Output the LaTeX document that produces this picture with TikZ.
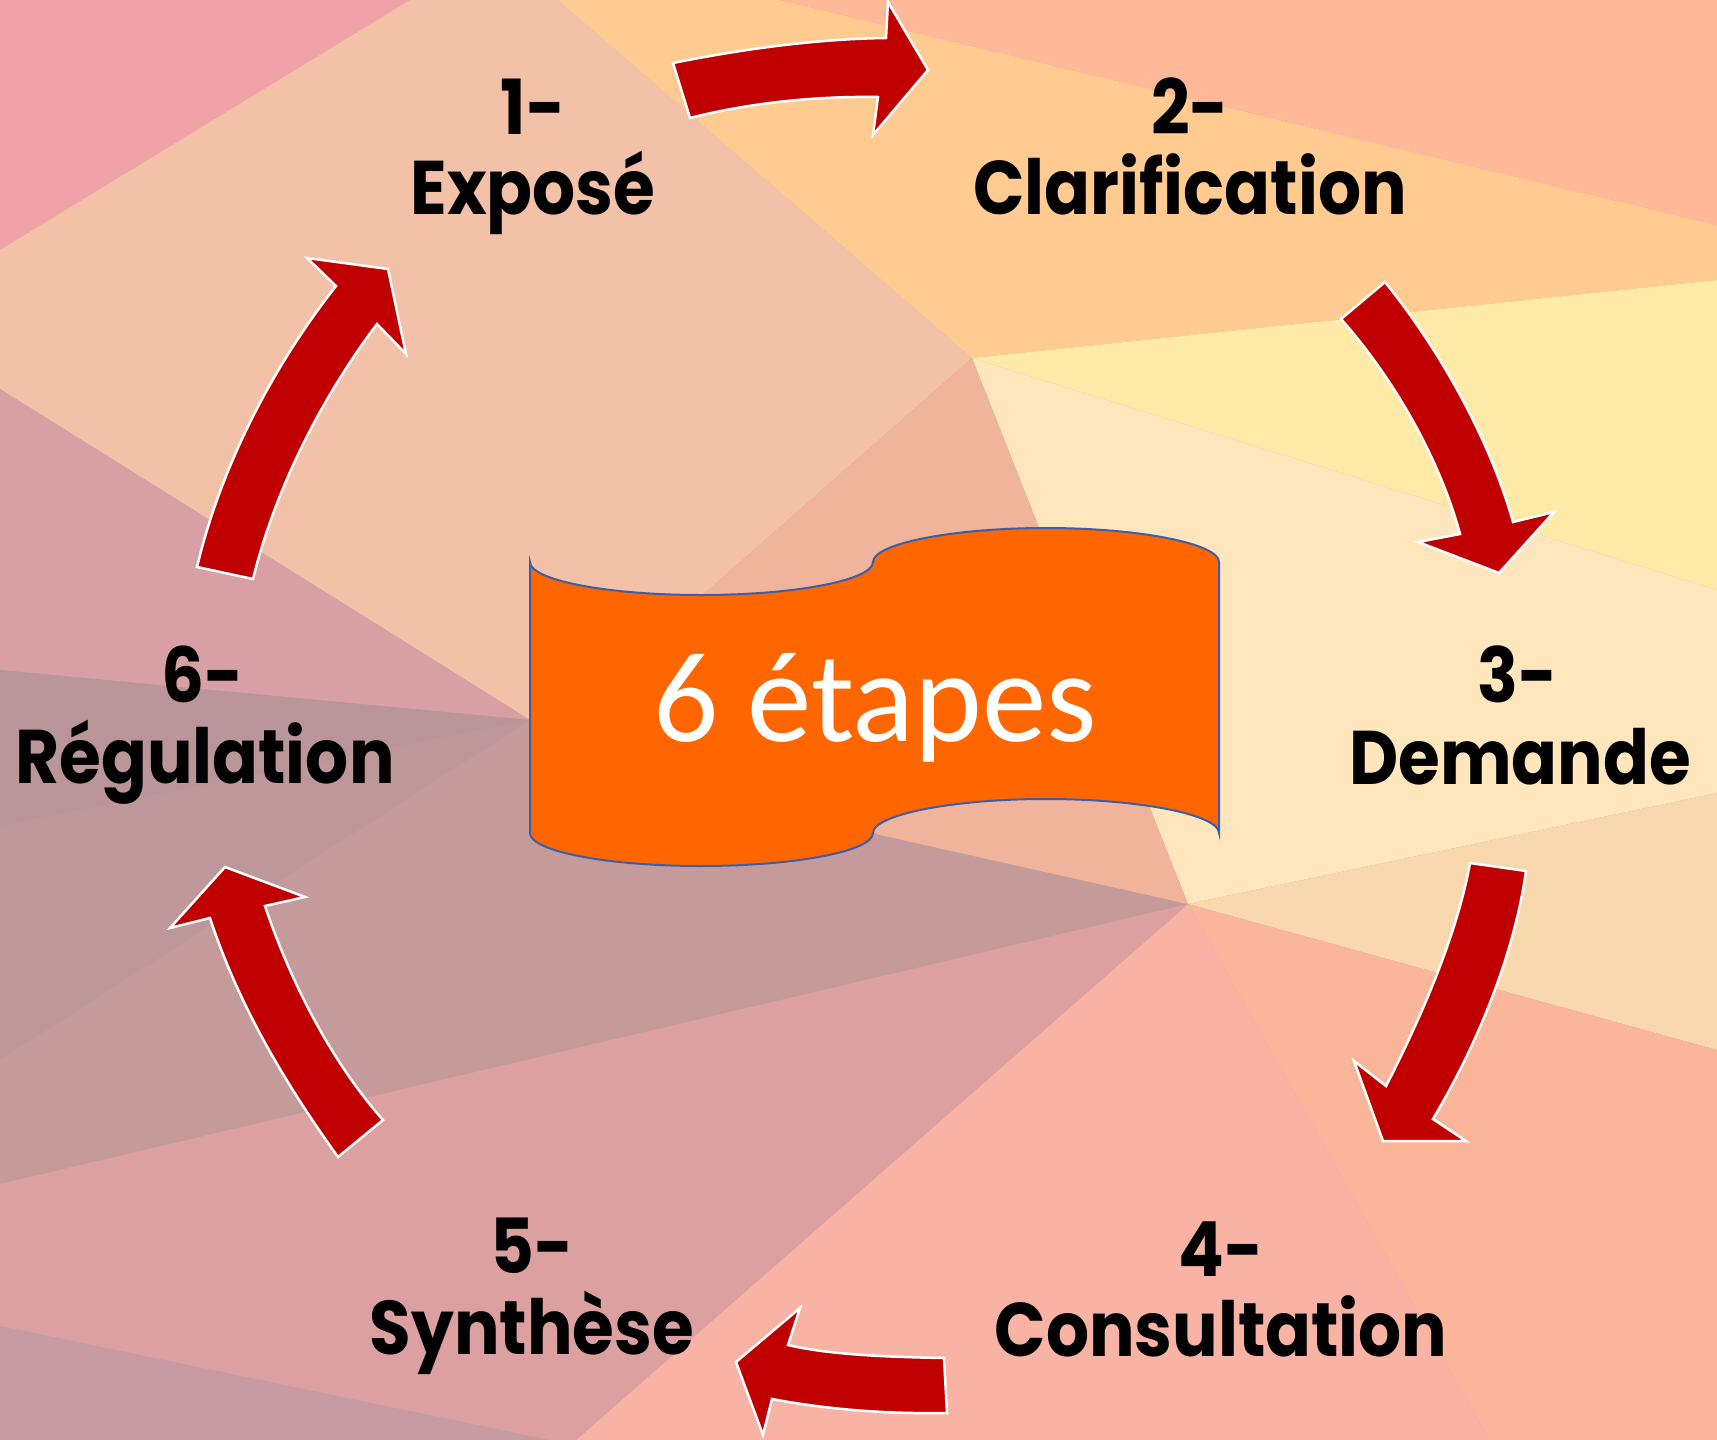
\documentclass[tikz,border=0pt]{standalone}
\usepackage{fontspec}
\newfontfamily\stepfont{Poppins}[FakeStretch=0.89]
\newfontfamily\bannerfont{Carlito}
\usetikzlibrary{calc}

% background tints
\definecolor{bgpink}{HTML}{EFA3A7}
\definecolor{bgpeach}{HTML}{F2C1A8}
\definecolor{bgorange}{HTML}{FFCB91}
\definecolor{bgsalmon}{HTML}{FFB898}
\definecolor{bgyellow}{HTML}{FFEAA8}
\definecolor{bgcream}{HTML}{FFE6BD}
\definecolor{bglightpeach}{HTML}{FAD8AE}
\definecolor{bgsalmonlow}{HTML}{FBB59B}
\definecolor{bgpinksalmon}{HTML}{F9B3A5}
\definecolor{bgcenter}{HTML}{EFB49B}
\definecolor{bgmauvepink}{HTML}{D8A0A5}
\definecolor{bggray}{HTML}{BA959A}
\definecolor{bggraylow}{HTML}{BE979B}
\definecolor{bgmauve}{HTML}{C49A9B}
\definecolor{bgpinkmauve}{HTML}{DCA0A1}
\definecolor{bgpurple}{HTML}{C79BA4}
% shapes
\definecolor{arrowred}{HTML}{C00000}
\definecolor{bannerorange}{HTML}{FF6600}
\definecolor{bannerline}{HTML}{3A5FA8}

\begin{document}
\begin{tikzpicture}[x=1pt, y=-1pt,
	steplabel/.style={anchor=base, inner sep=0pt, font=\stepfont\bfseries\fontsize{76}{80}\selectfont},
	cyclearrow/.style={fill=arrowred, draw=white, line width=2.5pt, line join=miter}]
	\useasboundingbox (0,0) rectangle (1717,1440);
	
	% low-poly background
	\fill[bgmauve] (0,0) rectangle (1717,1440);
	\fill[bgpink] (0,0) -- (410,0) -- (0,250) -- cycle;
	\fill[bgpeach] (0,250) -- (410,0) -- (558,0) -- (972,358) -- (640,650) -- (530,720) -- (0,389) -- cycle;
	\fill[bgorange] (558,0) -- (780,0) -- (1717,225) -- (1717,280) -- (972,358) -- cycle;
	\fill[bgsalmon] (780,0) -- (1717,0) -- (1717,225) -- cycle;
	\fill[bgyellow] (972,358) -- (1717,280) -- (1717,590) -- cycle;
	\fill[bgcream] (972,358) -- (1717,590) -- (1717,793) -- (1188,904) -- cycle;
	\fill[bglightpeach] (1188,904) -- (1717,793) -- (1717,1050) -- cycle;
	\fill[bgsalmonlow] (1188,904) -- (1717,1050) -- (1717,1440) -- (1489,1440) -- cycle;
	\fill[bgpinksalmon] (1188,904) -- (1489,1440) -- (576,1440) -- cycle;
	\fill[bgcenter] (972,358) -- (1188,904) -- (880,835) -- (530,720) -- (640,650) -- cycle;
	\fill[bgmauvepink] (0,389) -- (530,720) -- (0,670) -- cycle;
	\fill[bggray] (0,670) -- (530,720) -- (0,826) -- cycle;
	\fill[bggraylow] (0,826) -- (530,720) -- (0,1060) -- cycle;
	\fill[bgpinkmauve] (0,1184) -- (1188,904) -- (576,1440) -- (549,1440) -- (0,1326) -- cycle;
	\fill[bgpurple] (0,1326) -- (549,1440) -- (0,1440) -- cycle;
	
	% banner
	\filldraw[fill=bannerorange, draw=bannerline, line width=2pt]
		(530,562) .. controls (530,580) and (606,595) .. (701,595)
		.. controls (796,595) and (873,580) .. (873,562)
		.. controls (873,544) and (951,528) .. (1046,528)
		.. controls (1141,528) and (1219,544) .. (1219,562)
		-- (1219,833)
		.. controls (1219,815) and (1141,799) .. (1046,799)
		.. controls (951,799) and (873,815) .. (873,833)
		.. controls (873,851) and (796,866) .. (701,866)
		.. controls (606,866) and (530,851) .. (530,833) -- cycle;
	\node[anchor=base, inner sep=0pt, text=white, font=\bannerfont\fontsize{129}{140}\selectfont] (etapes) at (875,741) {6 étapes};
	
	% step labels
	\node[steplabel] (n1) at (533,134) {1-};
	\node[steplabel] (s1) at (533,214) {Exposé};
	\node[steplabel] (n2) at (1190,134) {2-};
	\node[steplabel] (s2) at (1190,214) {Clarification};
	\node[steplabel] (n3) at (1518,702) {3-};
	\node[steplabel] (s3) at (1520,784) {Demande};
	\node[steplabel] (n4) at (1221,1276) {4-};
	\node[steplabel] (s4) at (1221,1356) {Consultation};
	\node[steplabel] (n5) at (532,1273) {5-};
	\node[steplabel] (s5) at (532,1354) {Synthèse};
	\node[steplabel] (n6) at (203,702) {6-};
	\node[steplabel] (s6) at (205,783) {Régulation};
	
	% curved arrows round the cycle
	\filldraw[cyclearrow] (673,63) .. controls (743,49) and (816,39) .. (886,38) -- (888,2) -- (928,70) -- (873,135) -- (878,97) .. controls (810,96) and (745,104) .. (690,118) -- cycle;
	\filldraw[cyclearrow] (1385,282) .. controls (1440,350) and (1490,440) .. (1513,522) -- (1554,512) -- (1499,573) -- (1418,542) -- (1460,534) .. controls (1440,460) and (1395,380) .. (1341,319) -- cycle;
	\filldraw[cyclearrow] (1526,871) .. controls (1515,950) and (1480,1040) .. (1433,1119) -- (1466,1141) -- (1383,1141) -- (1354,1061) -- (1386,1086) .. controls (1425,1010) and (1458,930) .. (1470,863) -- cycle;
	\filldraw[cyclearrow] (944,1358) .. controls (890,1357) and (830,1355) .. (788,1345) -- (800,1308) -- (736,1362) -- (763,1435) -- (772,1399) .. controls (830,1410) and (890,1414) .. (947,1413) -- cycle;
	\filldraw[cyclearrow] (338,1157) .. controls (290,1090) and (240,1010) .. (210,918) -- (170,928) -- (225,867) -- (305,897) -- (265,906) .. controls (290,980) and (330,1060) .. (383,1120) -- cycle;
	\filldraw[cyclearrow] (197,567) .. controls (220,470) and (270,370) .. (336,286) -- (307,258) -- (388,269) -- (406,354) -- (377,324) .. controls (320,400) and (275,490) .. (253,579) -- cycle;
\end{tikzpicture}
\end{document}
